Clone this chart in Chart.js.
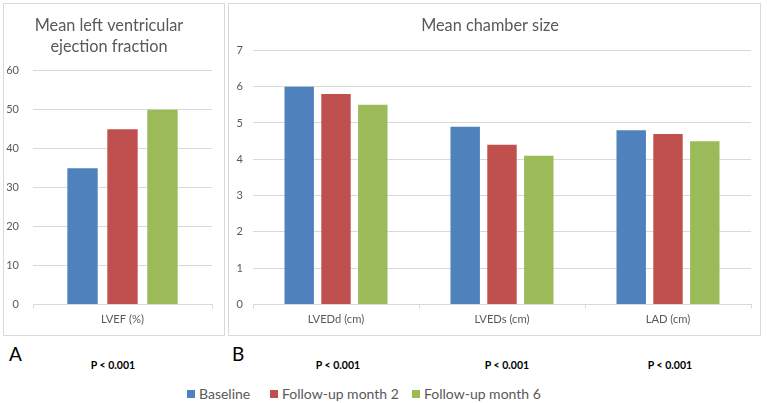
<!DOCTYPE html>
<html>
<head>
<meta charset="utf-8">
<script src="https://cdn.jsdelivr.net/npm/chart.js@4/dist/chart.umd.min.js"></script>
<style>
  html, body { margin:0; padding:0; background:#fff; }
  body { width:767px; height:403px; position:relative; overflow:hidden; font-family: Lato, "Open Sans", sans-serif; }
  .panel { position:absolute; border:1px solid #d9d9d9; box-sizing:border-box; background:#fff; }
  .panel canvas { position:absolute; left:0; top:0; }
  .lbl { position:absolute; color:#000; }
  .big { font-size:19px; }
  .p { font-size:10.5px; font-weight:bold; transform:translateX(-50%); white-space:nowrap; }
  .leg { position:absolute; top:385px; font-size:14px; color:#595959; white-space:nowrap; line-height:17px; }
  .leg i { display:inline-block; width:8px; height:8px; margin-right:4px; vertical-align:1px; }
</style>
</head>
<body>
<div class="panel" id="pa" style="left:3px;top:3px;width:222px;height:333px;"><canvas id="cA"></canvas></div>
<div class="panel" id="pb" style="left:228px;top:3px;width:533px;height:333px;"><canvas id="cB"></canvas></div>
<div class="lbl big" style="left:9px;top:342px;">A</div>
<div class="lbl big" style="left:232px;top:342px;">B</div>
<div id="pvals"></div>
<div id="legend"></div>
<script>
// ---- data ----
const seriesNames = ['Baseline', 'Follow-up month 2', 'Follow-up month 6'];
const seriesColors = ['#4f81bd', '#c0504d', '#9bbb59'];

const categoriesA = ['LVEF (%)'];
const baselineA = [35];
const month2A = [45];
const month6A = [50];
const ticksA = [0, 10, 20, 30, 40, 50, 60];

const categoriesB = ['LVEDd (cm)', 'LVEDs (cm)', 'LAD (cm)'];
const baselineB = [6.0, 4.9, 4.8];
const month2B = [5.8, 4.4, 4.7];
const month6B = [5.5, 4.1, 4.5];
const ticksB = [0, 1, 2, 3, 4, 5, 6, 7];

const pLabels = ['P < 0.001', 'P < 0.001', 'P < 0.001', 'P < 0.001'];

const titleA = ['Mean left ventricular', 'ejection fraction'];
const titleB = 'Mean chamber size';

// ---- layout (positions only) ----
const pLabelX = [113, 338, 507, 670];
const legendX = [187, 270, 412];

// ---- rendering ----
Chart.defaults.font.family = 'Lato, "Open Sans", sans-serif';
Chart.defaults.color = '#595959';

function ds(vals, barPct, catPct) {
  return [vals[0], vals[1], vals[2]].map((v, i) => ({
    label: seriesNames[i], data: v, backgroundColor: seriesColors[i],
    borderWidth: 0, barPercentage: barPct, categoryPercentage: catPct
  }));
}

function makeChart(id, w, h, cats, data, ticks, title, pad, yWidth, yPad, barPct, catPct) {
  const cv = document.getElementById(id);
  cv.width = w; cv.height = h; cv.style.width = w + 'px'; cv.style.height = h + 'px';
  return new Chart(cv, {
    type: 'bar',
    data: { labels: cats, datasets: ds(data, barPct, catPct) },
    options: {
      responsive: false, animation: false, devicePixelRatio: 1,
      layout: { padding: pad },
      plugins: {
        legend: { display: false }, tooltip: { enabled: false },
        title: { display: true, text: title, color: '#595959',
                 font: { size: 16.3, weight: 'normal', lineHeight: 1.25 }, padding: { top: 4, bottom: 14 } }
      },
      scales: {
        x: {
          grid: { display: true, drawOnChartArea: false, drawTicks: true, tickLength: 4, color: '#d9d9d9', offset: true },
          border: { display: true, color: '#d9d9d9' },
          ticks: { color: '#595959', font: { size: 11.2 }, padding: 4 }
        },
        y: {
          min: ticks[0], max: ticks[ticks.length - 1],
          afterBuildTicks: (ax) => { ax.ticks = ticks.map(v => ({ value: v })); },
          afterFit: (ax) => { ax.width = yWidth; },
          grid: { color: '#d9d9d9', drawTicks: false },
          border: { display: false },
          ticks: { color: '#595959', font: { size: 11 }, padding: yPad }
        }
      }
    }
  });
}

const chartA = makeChart('cA', 220, 331, categoriesA, [baselineA, month2A, month6A], ticksA, titleA,
  { left: 2, right: 12, top: 8, bottom: 5 }, 27, 14, 0.76, 0.67);
const chartB = makeChart('cB', 531, 331, categoriesB, [baselineB, month2B, month6B], ticksB, titleB,
  { left: 0, right: 9, top: 8, bottom: 5 }, 24, 10, 0.80, 0.665);

// P-value labels
const pv = document.getElementById('pvals');
pLabels.forEach((t, i) => {
  const d = document.createElement('div');
  d.className = 'lbl p'; d.style.left = pLabelX[i] + 'px'; d.style.top = '359px'; d.textContent = t;
  pv.appendChild(d);
});

// legend
const lg = document.getElementById('legend');
seriesNames.forEach((n, i) => {
  const s = document.createElement('div'); s.className = 'leg'; s.style.left = legendX[i] + 'px';
  const sq = document.createElement('i'); sq.style.background = seriesColors[i];
  s.appendChild(sq); s.appendChild(document.createTextNode(n));
  lg.appendChild(s);
});
</script>
</body>
</html>
